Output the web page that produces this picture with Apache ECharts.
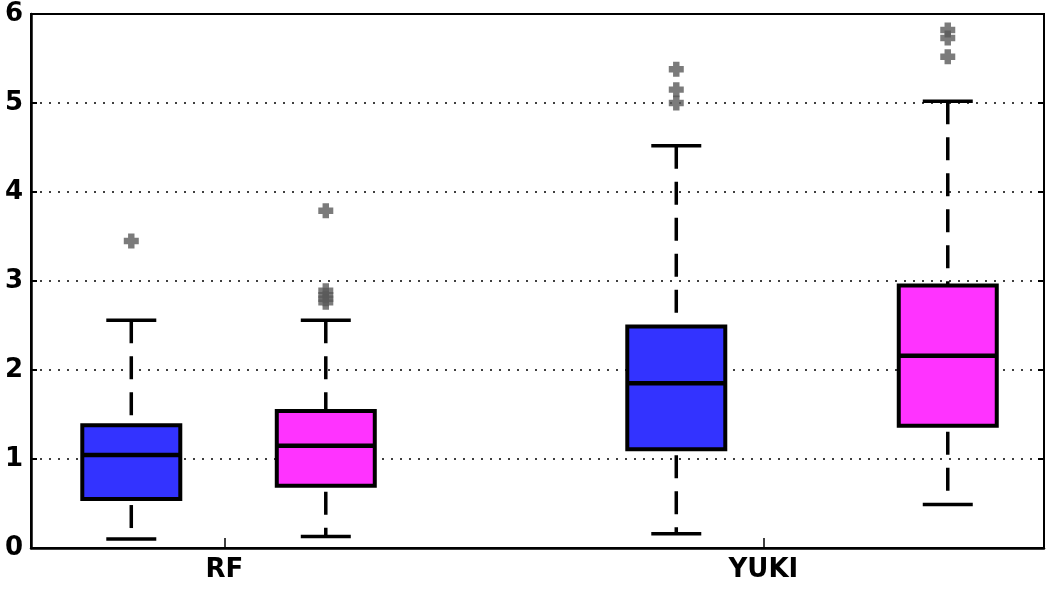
<!DOCTYPE html>
<html>
<head>
<meta charset="utf-8">
<script src="https://cdn.jsdelivr.net/npm/echarts@6/dist/echarts.min.js"></script>
<style>
  html, body { margin: 0; padding: 0; background: #fff; }
  #chart { width: 1050px; height: 590px; }
</style>
</head>
<body>
<div id="chart"></div>
<script>
// group labels and where they sit on the x scale
var groups = ['RF', 'YUKI'];
var groupTickX = [1.91, 7.23];

// one entry per box: RF blue, RF magenta, YUKI blue, YUKI magenta
var boxX = [0.99, 2.91, 6.37, 9.05];
var whiskerLow = [0.10, 0.13, 0.16, 0.49];
var q1 = [0.55, 0.70, 1.11, 1.375];
var median = [1.045, 1.15, 1.85, 2.16];
var q3 = [1.38, 1.54, 2.49, 2.95];
var whiskerHigh = [2.56, 2.56, 4.52, 5.02];
var outliers = [
  [3.45],
  [3.79, 2.89, 2.84, 2.80, 2.76],
  [5.38, 5.15, 5.0],
  [5.82, 5.73, 5.52]
];

var boxColors = ['#3333ff', '#ff33ff', '#3333ff', '#ff33ff'];

function renderBoxChart(chartID) {
  var echarts = window.echarts;
  var chartDom = document.getElementById(chartID);
  var myChart = echarts.init(chartDom);
  var option;

  var boxData = boxX.map(function (x, i) {
    return [x, whiskerLow[i], q1[i], median[i], q3[i], whiskerHigh[i]];
  });
  var outlierData = [];
  outliers.forEach(function (vals, i) {
    vals.forEach(function (v) {
      outlierData.push([boxX[i], v]);
    });
  });

  var labelFont = {
    color: '#000',
    fontFamily: 'DejaVu Sans',
    fontWeight: 'bold',
    fontSize: 26
  };

  function renderBox(params, api) {
    var x = api.value(0);
    var low = api.coord([x, api.value(1)]);
    var bq1 = api.coord([x, api.value(2)]);
    var med = api.coord([x, api.value(3)]);
    var bq3 = api.coord([x, api.value(4)]);
    var high = api.coord([x, api.value(5)]);
    var cx = low[0];
    var halfBox = 49;
    var halfCap = 25;
    var black = { stroke: '#000', lineWidth: 3.5 };
    return {
      type: 'group',
      children: [
        {
          type: 'line',
          shape: { x1: cx, y1: high[1], x2: cx, y2: bq3[1] },
          style: { stroke: '#000', lineWidth: 3.5, lineDash: [23, 13] }
        },
        {
          type: 'line',
          shape: { x1: cx, y1: bq1[1] + 6, x2: cx, y2: low[1] },
          style: { stroke: '#000', lineWidth: 3.5, lineDash: [23, 13] }
        },
        {
          type: 'line',
          shape: { x1: cx - halfCap, y1: high[1], x2: cx + halfCap, y2: high[1] },
          style: black
        },
        {
          type: 'line',
          shape: { x1: cx - halfCap, y1: low[1], x2: cx + halfCap, y2: low[1] },
          style: black
        },
        {
          type: 'rect',
          shape: { x: cx - halfBox, y: bq3[1], width: halfBox * 2, height: bq1[1] - bq3[1] },
          style: { fill: boxColors[params.dataIndex], stroke: '#000', lineWidth: 4 }
        },
        {
          type: 'line',
          shape: { x1: cx - halfBox, y1: med[1], x2: cx + halfBox, y2: med[1] },
          style: { stroke: '#000', lineWidth: 4.5 }
        }
      ]
    };
  }

  option = {
    animation: false,
    backgroundColor: '#fff',
    grid: {
      left: 31,
      right: 6,
      top: 14,
      bottom: 42,
      show: true,
      borderColor: '#000',
      borderWidth: 2
    },
    xAxis: {
      type: 'value',
      min: 0,
      max: 10,
      axisLine: { show: true, onZero: false, lineStyle: { color: '#000', width: 2.5 } },
      axisTick: {
        show: true,
        inside: true,
        length: 10,
        customValues: groupTickX,
        lineStyle: { color: '#000', width: 1.5 }
      },
      axisLabel: Object.assign({
        customValues: groupTickX,
        margin: 9,
        formatter: function (v) {
          var k = groupTickX.indexOf(v);
          return k >= 0 ? groups[k] : '';
        }
      }, labelFont),
      splitLine: { show: false }
    },
    yAxis: [
      {
        type: 'value',
        min: 0,
        max: 6,
        interval: 1,
        axisLine: { show: true, lineStyle: { color: '#000', width: 2.5 } },
        axisTick: { show: true, inside: true, length: 6, lineStyle: { color: '#000', width: 2 } },
        axisLabel: Object.assign({ margin: 8 }, labelFont),
        splitLine: {
          show: true,
          lineStyle: { color: '#000', width: 1.5, type: [2, 7] }
        }
      },
      {
        type: 'value',
        position: 'right',
        min: 0,
        max: 6,
        interval: 1,
        axisLine: { show: true, lineStyle: { color: '#000', width: 1.5 } },
        axisTick: { show: true, inside: true, length: 6, lineStyle: { color: '#000', width: 2 } },
        axisLabel: { show: false },
        splitLine: { show: false }
      }
    ],
    series: [
      {
        type: 'custom',
        name: 'boxes',
        renderItem: renderBox,
        encode: { x: 0, y: [1, 2, 3, 4, 5] },
        data: boxData,
        z: 3
      },
      {
        type: 'scatter',
        name: 'outliers',
        symbol: 'path://M4,0H10V4H14V10H10V14H4V10H0V4H4Z',
        symbolSize: 15,
        itemStyle: { color: '#5a5a5a' },
        data: outlierData,
        z: 4
      }
    ]
  };

  option && myChart.setOption(option);
}

renderBoxChart('chart');
</script>
</body>
</html>
